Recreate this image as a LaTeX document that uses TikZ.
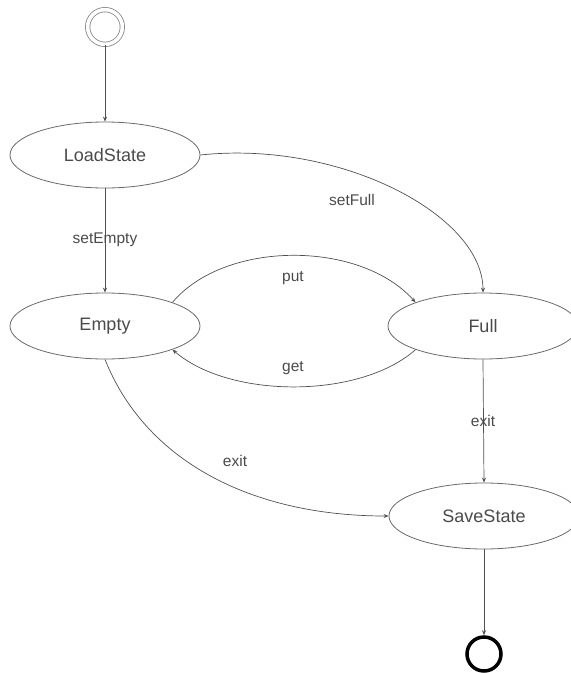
\documentclass[tikz,border=0pt]{standalone}
\usepackage{fontspec}
\setmainfont{Liberation Sans}
\usetikzlibrary{shapes.geometric,arrows.meta}
\definecolor{linec}{HTML}{505050}
\definecolor{textc}{HTML}{4A4A4A}
\tikzset{
  statebox/.style={ellipse, draw=linec!85, line width=0.8pt, minimum width=190pt, minimum height=66pt, inner sep=0pt, text=textc, font=\fontsize{18}{20}\selectfont},
  trans/.style={draw=linec, line width=0.7pt, -{Stealth[length=5pt,width=4pt]}},
  lbl/.style={text=textc, font=\fontsize{15.5}{18}\selectfont, inner sep=0pt},
}
\begin{document}
\begin{tikzpicture}[x=1pt,y=-1pt]
\useasboundingbox (0,0) rectangle (571,673);
\node[circle, draw=linec!70, line width=0.8pt, double, double distance=3.6pt, minimum size=34.7pt, inner sep=0pt] (init) at (105,27) {};
\node[statebox] (load) at (105,155) {LoadState};
\node[statebox] (empty) at (105,326) {Empty};
\node[statebox] (full) at (483,326) {Full};
\node[statebox] (save) at (484,516) {SaveState};
\node[circle, draw=black, line width=3.5pt, minimum size=34pt, inner sep=0pt] (final) at (484,654) {};

\draw[trans] (init.south) -- (load.north);
\draw[trans] (load.south) -- (empty.north);
\draw[trans] (load.east) .. controls (340,140) and (483,215) .. (full.north);
\draw[trans] (empty.north east) .. controls (225,240) and (360,240) .. (full.north west);
\draw[trans] (full.south west) .. controls (360,399) and (230,399) .. (empty.south east);
\draw[trans] (full.south) -- (save.north);
\draw[trans] (empty.south) .. controls (145,460) and (250,516) .. (save.west);
\draw[trans] (save.south) -- (final.north);

\node[lbl] (lsetEmpty) at (105,240) {setEmpty};
\node[lbl] (lsetFull) at (352,200) {setFull};
\node[lbl] (lput) at (293,278) {put};
\node[lbl] (lget) at (293,368) {get};
\node[lbl] (lexit1) at (483,421) {exit};
\node[lbl] (lexit2) at (235,461) {exit};
\end{tikzpicture}
\end{document}
